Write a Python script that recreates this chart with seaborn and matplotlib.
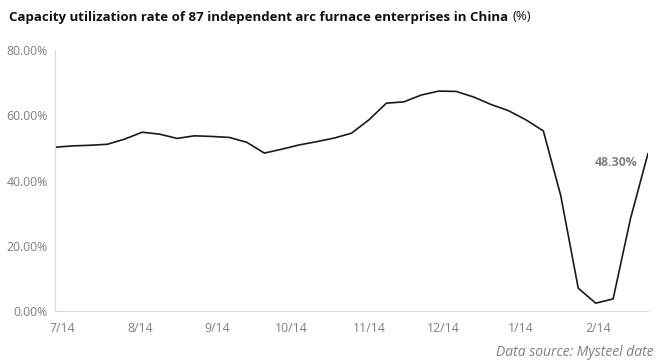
import matplotlib
matplotlib.use("Agg")
import matplotlib.pyplot as plt
from matplotlib.ticker import FuncFormatter
import pandas as pd
import seaborn as sns

# ---- data ----
dates = pd.date_range("2023-07-11", periods=35, freq="7D")
utilization = [50.2, 50.6, 50.8, 51.1, 52.7, 54.8, 54.2, 52.9, 53.7, 53.5,
               53.2, 51.7, 48.4, 49.6, 50.9, 51.9, 53.0, 54.5, 58.6, 63.7,
               64.1, 66.2, 67.4, 67.3, 65.6, 63.3, 61.4, 58.6, 55.2, 35.3,
               7.0, 2.4, 3.7, 28.4, 48.3]
tick_dates = ["2023-07-14", "2023-08-14", "2023-09-14", "2023-10-14",
              "2023-11-14", "2023-12-14", "2024-01-14", "2024-02-14"]
tick_labels = ["7/14", "8/14", "9/14", "10/14", "11/14", "12/14", "1/14", "2/14"]
y_ticks = [0, 20, 40, 60, 80]
last_label = "48.30%"

df = pd.DataFrame({"date": dates, "rate": utilization})

sns.set_style("white")
plt.rcParams["font.family"] = ["Open Sans", "DejaVu Sans"]

W, H = 660, 364
fig = plt.figure(figsize=(W / 100, H / 100), dpi=100)
ax = fig.add_axes([55 / W, 1 - 311 / H, (648 - 55) / W, (311 - 50) / H])

sns.lineplot(data=df, x="date", y="rate", ax=ax, color="#1a1a1a", linewidth=1.2)

ax.set_xlim(df["date"].iloc[0], df["date"].iloc[-1])
ax.set_ylim(0, 80)
ax.set_yticks(y_ticks)
ax.yaxis.set_major_formatter(FuncFormatter(lambda v, p: f"{v:.2f}%"))
ax.set_xticks(pd.to_datetime(tick_dates))
ax.set_xticklabels(tick_labels)
ax.set_xlabel("")
ax.set_ylabel("")
ax.tick_params(axis="both", length=0, labelsize=8.8, colors="#808080")
ax.tick_params(axis="y", pad=5)
ax.tick_params(axis="x", pad=8)
for s in ["top", "right"]:
    ax.spines[s].set_visible(False)
for s in ["left", "bottom"]:
    ax.spines[s].set_color("#d9d9d9")
    ax.spines[s].set_linewidth(0.8)

# end-value label
ax.annotate(last_label, xy=(df["date"].iloc[-1], df["rate"].iloc[-1]),
            xytext=(-7.5, -6.5), textcoords="offset points",
            ha="right", va="center", fontsize=8.8, fontweight="bold",
            color="#808080")

# title: bold part + regular "(%)"
t1 = fig.text(9 / W, 1 - 17 / H,
              "Capacity utilization rate of 87 independent arc furnace enterprises in China",
              ha="left", va="center", fontsize=9.55, fontweight="bold", color="#111111")
fig.canvas.draw()
bb = t1.get_window_extent()
fig.text((bb.x1 + 4) / W, 1 - 17 / H, "(%)", ha="left", va="center",
         fontsize=9.55, color="#111111")

fig.text(496 / W, 1 - 352 / H, "Data source: Mysteel date", ha="left", va="center",
         fontsize=10, style="italic", color="#808080")

fig.savefig("out.png", dpi=100)
